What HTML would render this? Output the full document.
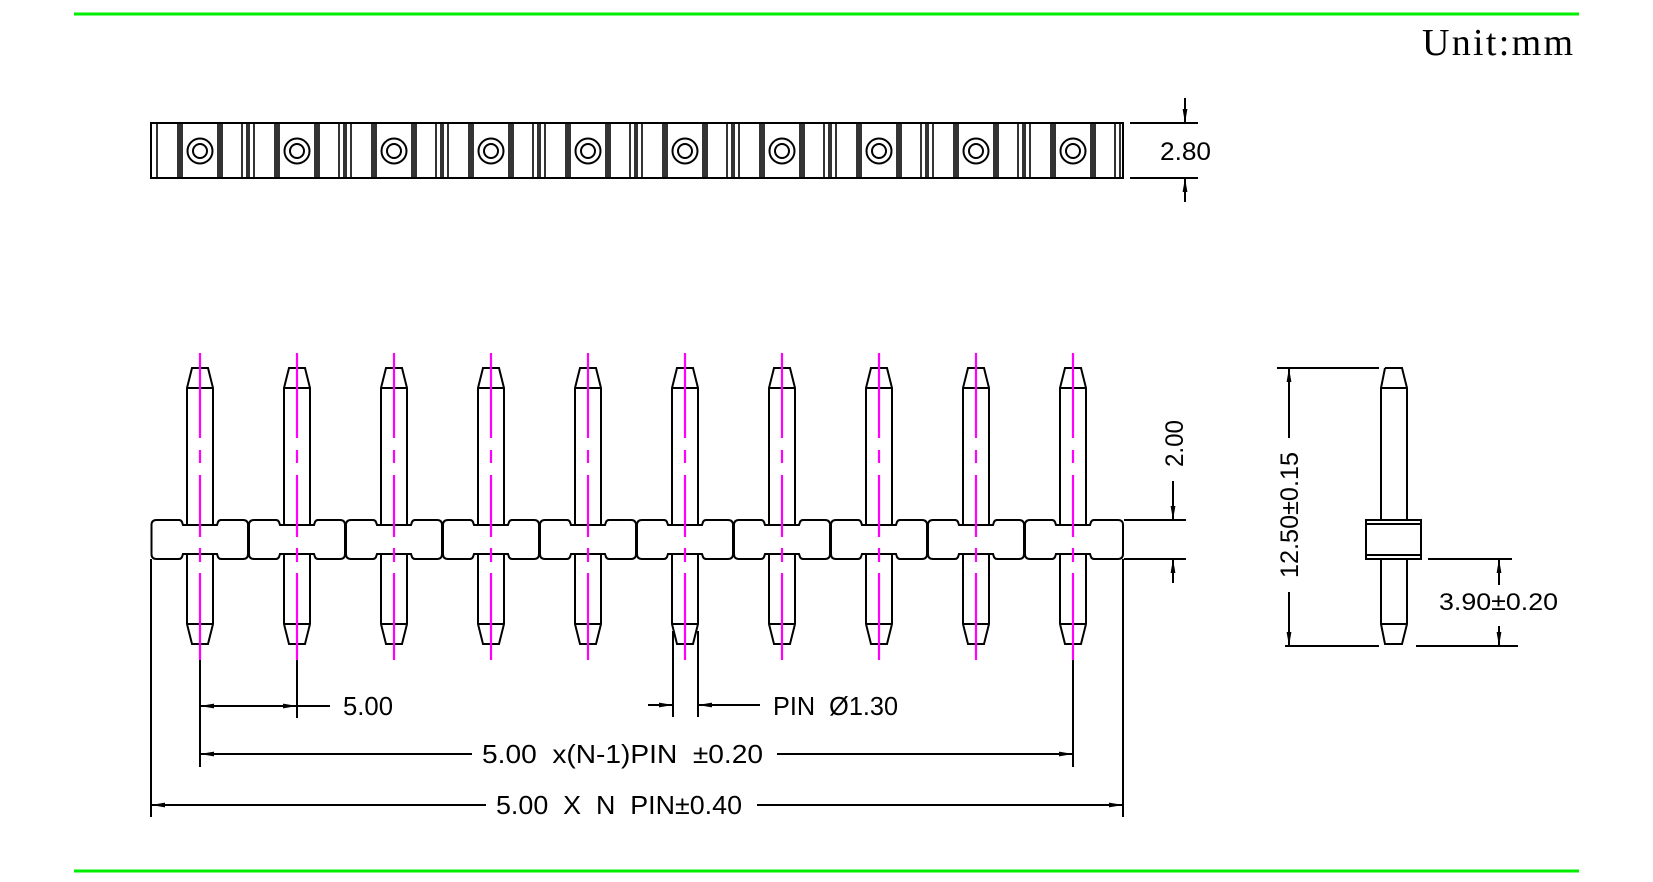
<!DOCTYPE html>
<html><head><meta charset="utf-8"><style>
html,body{margin:0;padding:0;background:#fff;}
svg{display:block;}
text{font-family:"Liberation Sans Narrow","Liberation Sans",sans-serif;fill:#000;}
</style></head><body>
<svg xmlns="http://www.w3.org/2000/svg" width="1653" height="882" viewBox="0 0 1653 882">
<defs>
<marker id="ar" viewBox="0 0 14 6" refX="14" refY="3" markerWidth="14" markerHeight="6" markerUnits="userSpaceOnUse" orient="auto-start-reverse"><path d="M0,0.6 L14,3 L0,5.4 Z" fill="#000"/></marker>
</defs>
<line x1="74" y1="14" x2="1579" y2="14" stroke="#00ee00" stroke-width="3"/>
<line x1="74" y1="871" x2="1579" y2="871" stroke="#00ee00" stroke-width="3"/>
<text x="1422" y="55" style="font-family:'Liberation Serif',serif;font-size:38px" textLength="151" lengthAdjust="spacing">Unit:mm</text>

<g stroke="#000" stroke-width="2" fill="none">
<rect x="151" y="123" width="972" height="55"/>
</g>
<g stroke="#000" stroke-width="1.6" fill="none" id="striplines"></g>
<g stroke="#000" stroke-width="2" fill="none" id="housing"></g>
<g stroke="#ff00ff" stroke-width="2.2" id="mag"></g>

<g stroke="#000" stroke-width="2" fill="none">
<line x1="1130" y1="123" x2="1198" y2="123"/>
<line x1="1130" y1="178" x2="1198" y2="178"/>
<line x1="1185" y1="98" x2="1185" y2="123" marker-end="url(#ar)"/>
<line x1="1185" y1="202" x2="1185" y2="178" marker-end="url(#ar)"/>
<line x1="1124" y1="520" x2="1186" y2="520"/>
<line x1="1124" y1="559" x2="1186" y2="559"/>
<line x1="1173" y1="481" x2="1173" y2="520" marker-end="url(#ar)"/>
<line x1="1173" y1="583" x2="1173" y2="559" marker-end="url(#ar)"/>
<path d="M1385,368 L1402,368 L1407,388 L1407,520 M1381,520 L1381,388 L1385,368 M1381,388 L1407,388"/>
<rect x="1366" y="520" width="55" height="39"/>
<line x1="1366" y1="524" x2="1421" y2="524"/>
<line x1="1366" y1="555" x2="1421" y2="555"/>
<path d="M1381,559 L1381,624 L1385,644 L1402,644 L1407,624 L1407,559 M1381,624 L1407,624"/>
<line x1="1277" y1="368" x2="1379" y2="368"/>
<line x1="1285" y1="646" x2="1379" y2="646"/>
<line x1="1289" y1="438" x2="1289" y2="368" marker-end="url(#ar)"/>
<line x1="1289" y1="592" x2="1289" y2="646" marker-end="url(#ar)"/>
<line x1="1428" y1="559" x2="1512" y2="559"/>
<line x1="1416" y1="646" x2="1518" y2="646"/>
<line x1="1499" y1="585" x2="1499" y2="559" marker-end="url(#ar)"/>
<line x1="1499" y1="626" x2="1499" y2="646" marker-end="url(#ar)"/>
<line x1="151" y1="559" x2="151" y2="817"/>
<line x1="1123" y1="559" x2="1123" y2="817"/>
<line x1="200" y1="660" x2="200" y2="767"/>
<line x1="297" y1="660" x2="297" y2="718"/>
<line x1="1073" y1="660" x2="1073" y2="767"/>
<line x1="673" y1="631" x2="673" y2="717"/>
<line x1="698" y1="631" x2="698" y2="717"/>
<line x1="200" y1="706" x2="297" y2="706" marker-start="url(#ar)" marker-end="url(#ar)"/>
<line x1="297" y1="706" x2="330" y2="706"/>
<line x1="648" y1="705" x2="673" y2="705" marker-end="url(#ar)"/>
<line x1="760" y1="705" x2="698" y2="705" marker-end="url(#ar)"/>
<line x1="472" y1="754" x2="200" y2="754" marker-end="url(#ar)"/>
<line x1="777" y1="754" x2="1073" y2="754" marker-end="url(#ar)"/>
<line x1="486" y1="805" x2="151" y2="805" marker-end="url(#ar)"/>
<line x1="757" y1="805" x2="1123" y2="805" marker-end="url(#ar)"/>
</g>

<text x="1160" y="160" style="font-size:25px" textLength="51" lengthAdjust="spacingAndGlyphs">2.80</text>
<text transform="translate(1183,467) rotate(-90)" style="font-size:25px" textLength="47" lengthAdjust="spacingAndGlyphs">2.00</text>
<text transform="translate(1298,578) rotate(-90)" style="font-size:25px" textLength="126" lengthAdjust="spacingAndGlyphs">12.50±0.15</text>
<text x="1439" y="610" style="font-size:24px" textLength="119" lengthAdjust="spacingAndGlyphs">3.90±0.20</text>
<text x="343" y="715" style="font-size:26px" textLength="50" lengthAdjust="spacingAndGlyphs">5.00</text>
<text x="773" y="715" style="font-size:26px" textLength="125" lengthAdjust="spacingAndGlyphs" xml:space="preserve">PIN  Ø1.30</text>
<text x="482" y="763" style="font-size:26px" textLength="281" lengthAdjust="spacingAndGlyphs" xml:space="preserve">5.00  x(N-1)PIN  ±0.20</text>
<text x="496" y="814" style="font-size:26px" textLength="246" lengthAdjust="spacingAndGlyphs" xml:space="preserve">5.00  X  N  PIN±0.40</text>

<script>
(function(){
var NS="http://www.w3.org/2000/svg";
function el(p,t,a){var e=document.createElementNS(NS,t);for(var k in a)e.setAttribute(k,a[k]);p.appendChild(e);return e;}
var sl=document.getElementById('striplines'),h=document.getElementById('housing'),m=document.getElementById('mag');
for(var i=0;i<10;i++){
 var c=200+97*i;
 [-43,-22,-20,-18,18,20,22,42,47].forEach(function(d){el(sl,'line',{x1:c+d,y1:123,x2:c+d,y2:178});});
 if(i>0) el(sl,'line',{x1:c-48,y1:123,x2:c-48,y2:178});
 el(sl,'circle',{cx:c,cy:151,r:12.5,'stroke-width':2});
 el(sl,'circle',{cx:c,cy:151,r:7,'stroke-width':2});
 var L=c-48.5+(i>0?0.5:0),R=c+48.5-0.5,r=5;
 if(i==9)R=1123;
 var d="M"+(L+r)+",520 L"+(c-21)+",520 Q"+(c-19)+",520 "+(c-18)+",522 L"+(c-17)+",525 L"+(c+17)+",525 L"+(c+18)+",522 Q"+(c+19)+",520 "+(c+21)+",520 L"+(R-r)+",520 Q"+R+",520 "+R+","+(520+r)+
 " L"+R+","+(559-r)+" Q"+R+",559 "+(R-r)+",559 L"+(c+21)+",559 Q"+(c+19)+",559 "+(c+18)+",557 L"+(c+17)+",554 L"+(c-17)+",554 L"+(c-18)+",557 Q"+(c-19)+",559 "+(c-21)+",559 L"+(L+r)+",559 Q"+L+",559 "+L+","+(559-r)+
 " L"+L+","+(520+r)+" Q"+L+",520 "+(L+r)+",520 Z";
 el(h,'path',{d:d});
 el(h,'path',{d:"M"+(c-13)+",525 L"+(c-13)+",388 L"+(c-8)+",368 L"+(c+8)+",368 L"+(c+13)+",388 L"+(c+13)+",525 M"+(c-13)+",388 L"+(c+13)+",388"});
 el(h,'path',{d:"M"+(c-13)+",554 L"+(c-13)+",624 L"+(c-8)+",644 L"+(c+8)+",644 L"+(c+13)+",624 L"+(c+13)+",554 M"+(c-13)+",624 L"+(c+13)+",624"});
 [[353,438],[450,463],[475,537],[548,562],[573,660]].forEach(function(s){el(m,'line',{x1:c,y1:s[0],x2:c,y2:s[1]});});
}
})();
</script>
</svg>
</body></html>
